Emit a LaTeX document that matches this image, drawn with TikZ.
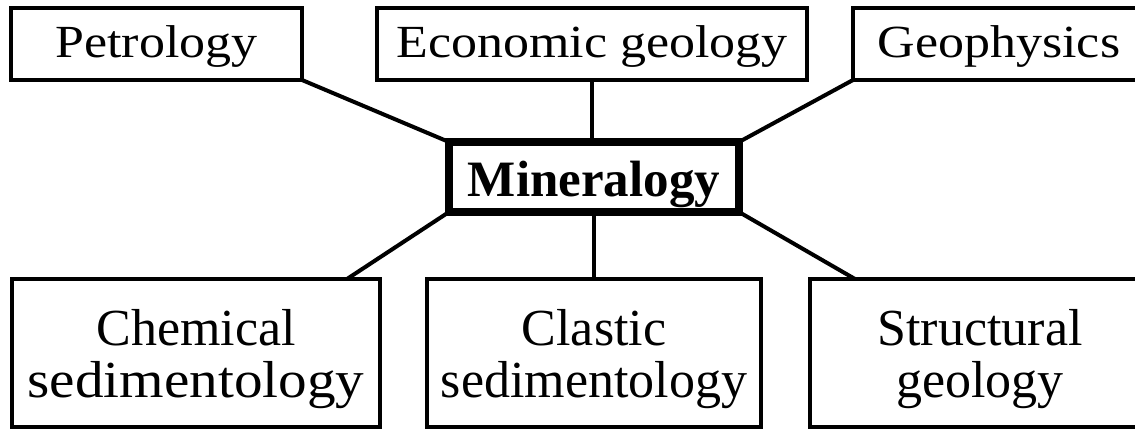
\documentclass[tikz,border=0pt]{standalone}
\usepackage{fontspec}
\usepackage{graphicx}
\setmainfont{Liberation Serif}
\newfontfamily\topfont[FakeStretch=1.13]{Liberation Serif}
\usetikzlibrary{calc}
\begin{document}
\begin{tikzpicture}[x=1pt,y=-1pt,
  box/.style={draw=black,rectangle,inner sep=0pt,outer sep=0pt,line width=4.5pt,fill=white},
  toprow/.style={box,minimum height=72pt,font=\topfont\fontsize{46}{46}\selectfont,text height=34pt,text depth=6pt},
  botrow/.style={box,minimum height=148pt,align=center,font=\fontsize{52}{52}\selectfont,text height=88pt,text depth=0pt},
  centre/.style={box,line width=8pt,minimum height=70pt,minimum width=290pt,font=\bfseries\fontsize{51}{51}\selectfont,text height=44pt,text depth=4pt},
  link/.style={line width=4pt,black}]
\useasboundingbox (0,0) rectangle (1135,430);
\clip (0,0) rectangle (1135,430);
\fill[white] (0,0) rectangle (1135,430);
% top row
\node[toprow,minimum width=291pt] (pet) at (156.5,44) {Petrology};
\node[toprow,minimum width=430pt] (eco) at (592,44) {Economic geology};
\node[toprow,minimum width=292pt] (geo) at (999,44) {Geophysics};
% centre
\node[centre] (min) at (594,177) {Mineralogy};
% bottom row
\node[botrow,minimum width=368pt] (chem) at (196,353) {Chemical\\\scalebox{1.1}[1]{sedimentology}};
\node[botrow,minimum width=334pt] (clas) at (594,353) {Clastic\\sedimentology};
\node[botrow,minimum width=340pt] (str) at (980,353) {Structural\\geology};
% connectors
\draw[link] (pet.south east) -- (min.north west);
\draw[link] (eco.south) -- (eco.south |- min.north);
\draw[link] (geo.south west) -- (min.north east);
\draw[link] (min.south west) -- ([xshift=-33pt]chem.north east);
\draw[link] (min.south) -- (clas.north);
\draw[link] (min.south east) -- ([xshift=45pt]str.north west);
\end{tikzpicture}
\end{document}
